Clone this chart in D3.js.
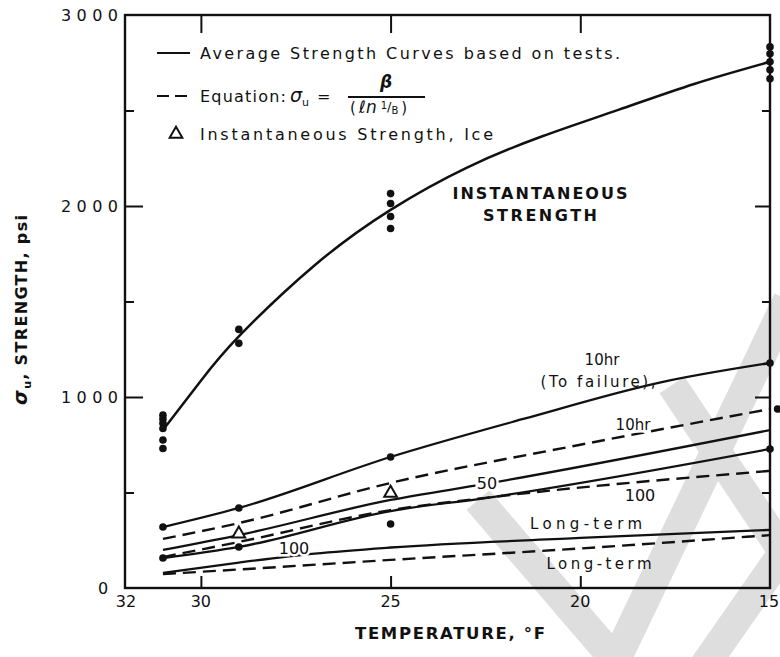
<!DOCTYPE html>
<html><head><meta charset="utf-8">
<script src="https://cdn.jsdelivr.net/npm/d3@7"></script>
<style>
body{margin:0;background:#fff;}
svg text{font-family:"DejaVu Sans",sans-serif;fill:#111;}
</style></head>
<body><svg id="c" width="780" height="657"></svg>
<script>
// ---------- DATA ----------
const xTickValues = [30, 25, 20];
const xTickLabels = ["32", "30", "25", "20", "15"];
const xTickLabelValues = [32, 30, 25, 20, 15];
const yMajorTicks = [1000, 2000];
const yMinorTicks = [500, 1500, 2500];
const yTickLabels = ["3000", "2000", "1000"];
const yTickLabelValues = [3000, 2000, 1000];

// Instantaneous strength (average curve)
const instT = [31, 30, 29, 27, 25, 23, 21, 19, 17, 15];
const instV = [827, 1085, 1317, 1690, 1980, 2200, 2365, 2503, 2639, 2755];
// Instantaneous strength test points
const instDotT = [31, 31, 31, 31, 31, 31, 29, 29, 25, 25, 25, 25, 15, 15, 15, 15, 15];
const instDotV = [905, 885, 862, 835, 775, 730, 1354, 1281, 2065, 2013, 1945, 1882, 2833, 2797, 2755, 2713, 2666];

// Lower curves
const tFail10T = [31, 29, 25, 21.5, 17.85, 15];          // 10 hr (to failure), solid
const tFail10V = [319, 419, 686, 885, 1078, 1178];
const eq10T = [31, 29, 25, 20, 15];                       // 10 hr, equation (dashed)
const eq10V = [257, 340, 550, 750, 937];
const avg50T = [31, 29, 25, 22.5, 15];                    // 50 hr, solid
const avg50V = [199, 277, 461, 545, 827];
const avg100T = [31, 29, 25, 22.5, 15];                   // 100 hr, solid
const avg100V = [157, 215, 403, 471, 728];
const eq100T = [31, 29, 25, 22.5, 15];                    // 100 hr, equation (dashed)
const eq100V = [162, 241, 408, 472, 613];
const longT = [31, 29, 27, 25, 20, 15];                   // long-term, solid
const longV = [79, 133, 180, 212, 262, 304];
const eqLongT = [31, 29, 25, 20, 15];                     // long-term, equation (dashed)
const eqLongV = [73, 97, 147, 207, 277];

// Test points of the creep curves
const creepDotT = [31, 29, 25, 15, 31, 29, 25, 15, 14.8];
const creepDotV = [319, 419, 686, 1178, 157, 215, 335, 728, 937];
// Instantaneous strength of ice (triangles)
const iceT = [29, 25];
const iceV = [283, 497];

// ---------- CHART ----------
const svg = d3.select("#c");
const x = d3.scaleLinear().domain([32, 15]).range([125, 770]);
const y = d3.scaleLinear().domain([0, 3000]).range([588, 15]);
const zip = (a, b) => a.map((d, i) => [d, b[i]]);
const line = d3.line().x(d => x(d[0])).y(d => y(d[1])).curve(d3.curveMonotoneX);
const smooth = d3.line().x(d => x(d[0])).y(d => y(d[1])).curve(d3.curveNatural);

// faint scan watermark (decorative background)
const wm = svg.append("g").attr("stroke", "#dedede").attr("stroke-width", 30).attr("fill", "none");
wm.append("path").attr("d", "M478,500 L622,668");
wm.append("path").attr("d", "M612,668 L788,300");
wm.append("path").attr("d", "M672,385 L792,565");
wm.append("path").attr("d", "M792,540 L700,672");

// frame
svg.append("rect").attr("x", x(32)).attr("y", y(3000))
  .attr("width", x(15) - x(32)).attr("height", y(0) - y(3000))
  .attr("fill", "none").attr("stroke", "#111").attr("stroke-width", 2.4);

function styleAxis(g){ g.select(".domain").remove(); g.selectAll("line").attr("stroke","#111").attr("stroke-width",2); }

// left axis
svg.append("g").attr("transform", `translate(${x(32)},0)`)
  .call(d3.axisLeft(y).tickValues(yMajorTicks).tickSizeInner(-18).tickSizeOuter(0).tickFormat(""))
  .call(styleAxis);
svg.append("g").attr("transform", `translate(${x(32)},0)`)
  .call(d3.axisLeft(y).tickValues(yMinorTicks).tickSizeInner(-9).tickSizeOuter(0).tickFormat(""))
  .call(styleAxis);
// right axis
svg.append("g").attr("transform", `translate(${x(15)},0)`)
  .call(d3.axisRight(y).tickValues(yMajorTicks).tickSizeInner(-15).tickSizeOuter(0).tickFormat(""))
  .call(styleAxis);
svg.append("g").attr("transform", `translate(${x(15)},0)`)
  .call(d3.axisRight(y).tickValues(yMinorTicks).tickSizeInner(-8).tickSizeOuter(0).tickFormat(""))
  .call(styleAxis);
// top & bottom
svg.append("g").attr("transform", `translate(0,${y(3000)})`)
  .call(d3.axisTop(x).tickValues(xTickValues).tickSizeInner(-18).tickSizeOuter(0).tickFormat(""))
  .call(styleAxis);
svg.append("g").attr("transform", `translate(0,${y(0)})`)
  .call(d3.axisBottom(x).tickValues(xTickValues).tickSizeInner(-12).tickSizeOuter(0).tickFormat(""))
  .call(styleAxis);

// y tick labels
yTickLabelValues.forEach((v, i) => {
  svg.append("text").attr("x", 118).attr("y", y(v) + 6).attr("text-anchor", "end")
    .attr("font-size", 16).attr("textLength", 57).attr("lengthAdjust", "spacing").text(yTickLabels[i]);
});
svg.append("text").attr("x", 103).attr("y", y(0) + 6).attr("text-anchor", "middle").attr("font-size", 16).text("0");
// x tick labels
xTickLabelValues.forEach((v, i) => {
  svg.append("text").attr("x", x(v)).attr("y", 607)
    .attr("text-anchor", "middle").attr("font-size", 16)
    .attr("dx", v === 32 ? 1 : (v === 15 ? -1 : 0))
    .text(xTickLabels[i]);
});

// axis titles
svg.append("text").attr("x", 355).attr("y", 639).attr("font-size", 16.5).attr("font-weight", "bold")
  .attr("textLength", 190).attr("lengthAdjust", "spacing").text("TEMPERATURE, °F");
const yt = svg.append("text").attr("transform", "translate(27,405) rotate(-90)")
  .attr("font-size", 16).attr("font-weight", "bold").attr("textLength", 190).attr("lengthAdjust", "spacing");
yt.append("tspan").attr("font-style", "italic").attr("font-size", 19).text("σ");
yt.append("tspan").attr("font-size", 11).attr("dy", 4).text("u");
yt.append("tspan").attr("dy", -4).text(", STRENGTH, psi");

// curves
const stroke = "#111";
svg.append("path").attr("d", smooth(zip(instT, instV))).attr("fill", "none").attr("stroke", stroke).attr("stroke-width", 2.5);
const solidSets = [[tFail10T, tFail10V], [avg50T, avg50V], [avg100T, avg100V], [longT, longV]];
solidSets.forEach(s => svg.append("path").attr("d", line(zip(s[0], s[1]))).attr("fill", "none")
  .attr("stroke", stroke).attr("stroke-width", 2.3));
const dashSets = [[eq10T, eq10V], [eq100T, eq100V], [eqLongT, eqLongV]];
dashSets.forEach(s => svg.append("path").attr("d", line(zip(s[0], s[1]))).attr("fill", "none")
  .attr("stroke", stroke).attr("stroke-width", 2.4).attr("stroke-dasharray", "13,7"));

// dots
svg.append("g").selectAll("circle").data(zip(instDotT, instDotV).concat(zip(creepDotT, creepDotV))).join("circle")
  .attr("cx", d => x(d[0])).attr("cy", d => y(d[1])).attr("r", 3.8).attr("fill", stroke);
// triangles
svg.append("g").selectAll("path").data(zip(iceT, iceV)).join("path")
  .attr("d", d3.symbol().type(d3.symbolTriangle).size(70))
  .attr("transform", d => `translate(${x(d[0])},${y(d[1])})`)
  .attr("fill", "#fff").attr("stroke", stroke).attr("stroke-width", 2);

// curve labels
function label(txt, cx, cy, len, fs, opts = {}) {
  const t = svg.append("text").attr("x", cx).attr("y", cy).attr("text-anchor", "middle")
    .attr("font-size", fs).attr("dominant-baseline", "central");
  if (len) t.attr("textLength", len).attr("lengthAdjust", "spacing");
  if (opts.bold) t.attr("font-weight", "bold");
  if (opts.halo) t.attr("stroke", "#fff").attr("stroke-width", 5).attr("paint-order", "stroke");
  t.text(txt);
  return t;
}
label("INSTANTANEOUS", 540, 193, 175, 16, {bold: true});
label("STRENGTH", 540, 215, 114, 16, {bold: true});
label("10hr", 602, 360, null, 15);
label("(To failure),", 598, 382, 115, 15);
label("10hr", 633, 425, null, 15, {halo: true});
label("50", 487, 483, null, 16, {halo: true});
label("100", 640, 495, null, 16, {halo: true});
label("100", 294, 548, null, 16, {halo: true});
label("Long-term", 586, 524, 112, 15);
label("Long-term", 599, 564, 105, 15);

// legend
svg.append("line").attr("x1", 157).attr("x2", 190).attr("y1", 53).attr("y2", 53).attr("stroke", stroke).attr("stroke-width", 2.2);
svg.append("text").attr("x", 200).attr("y", 59).attr("font-size", 16).attr("textLength", 420)
  .attr("lengthAdjust", "spacing").text("Average Strength Curves based on tests.");
svg.append("line").attr("x1", 157).attr("x2", 190).attr("y1", 96).attr("y2", 96).attr("stroke", stroke)
  .attr("stroke-width", 2.2).attr("stroke-dasharray", "12,6");
svg.append("text").attr("x", 200).attr("y", 102).attr("font-size", 16).attr("textLength", 86)
  .attr("lengthAdjust", "spacing").text("Equation:");
const eq = svg.append("text").attr("x", 290).attr("y", 102).attr("font-size", 16);
eq.append("tspan").attr("font-style", "italic").attr("font-size", 19).text("σ");
eq.append("tspan").attr("font-size", 11).attr("dy", 4).text("u");
eq.append("tspan").attr("dy", -4).attr("dx", 8).text("=");
svg.append("line").attr("x1", 348).attr("x2", 425).attr("y1", 97).attr("y2", 97).attr("stroke", stroke).attr("stroke-width", 1.8);
svg.append("text").attr("x", 386).attr("y", 88).attr("text-anchor", "middle").attr("font-size", 17)
  .attr("font-style", "italic").attr("font-weight", "bold").text("β");
const den = svg.append("text").attr("x", 350).attr("y", 113).attr("font-size", 15);
den.append("tspan").text("(");
den.append("tspan").attr("dx", 3).attr("font-style", "italic").attr("font-size", 17).text("ℓn");
den.append("tspan").attr("dx", 4).attr("font-size", 10).attr("dy", -4).text("1");
den.append("tspan").attr("font-size", 13).attr("dy", 2).text("/");
den.append("tspan").attr("font-size", 10).attr("dy", 3).text("B");
den.append("tspan").attr("dx", 3).attr("dy", -1).text(")");
svg.append("path").attr("d", d3.symbol().type(d3.symbolTriangle).size(70))
  .attr("transform", "translate(176,134)").attr("fill", "#fff").attr("stroke", stroke).attr("stroke-width", 2);
svg.append("text").attr("x", 200).attr("y", 140).attr("font-size", 16).attr("textLength", 293)
  .attr("lengthAdjust", "spacing").text("Instantaneous Strength, Ice");
</script></body></html>
